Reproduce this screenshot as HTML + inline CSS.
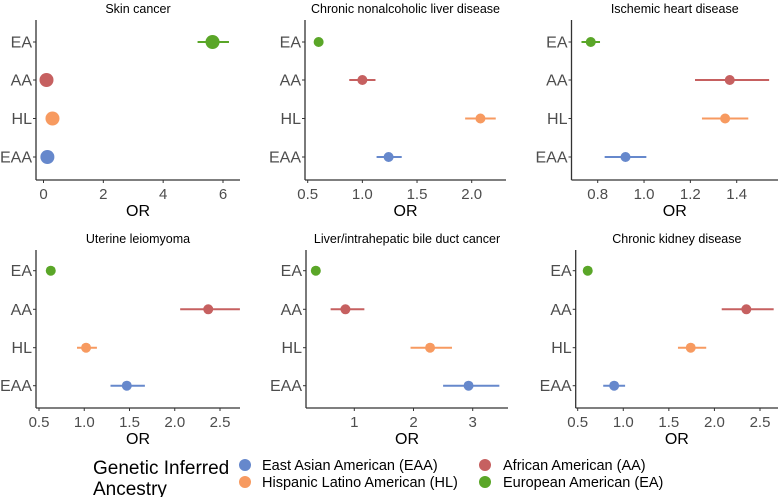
<!DOCTYPE html>
<html><head><meta charset="utf-8">
<style>
body{margin:0;background:#fff;}
svg text{font-family:"Liberation Sans",Arial,sans-serif;}
</style></head>
<body>
<svg id="chart" width="778" height="497" viewBox="0 0 778 497" xmlns="http://www.w3.org/2000/svg">
<g>
<text x="93" y="474" font-size="19" fill="#000">Genetic Inferred</text>
<text x="93" y="495" font-size="19" fill="#000">Ancestry</text>
<circle cx="245" cy="465" r="6" fill="#6688cc"/>
<text x="262" y="470" font-size="14.5" fill="#000">East Asian American (EAA)</text>
<circle cx="245" cy="482" r="6" fill="#f79a60"/>
<text x="262" y="487" font-size="14.5" fill="#000">Hispanic Latino American (HL)</text>
<circle cx="485" cy="465" r="6" fill="#c66060"/>
<text x="503" y="470" font-size="14.5" fill="#000">African American (AA)</text>
<circle cx="485" cy="482" r="6" fill="#5aa628"/>
<text x="503" y="487" font-size="14.5" fill="#000">European American (EA)</text>
</g>
</svg>
<script>
const groups = ["EA","AA","HL","EAA"];
const colors = ["#5aa628","#c66060","#f79a60","#6688cc"];
const titles = ["Skin cancer","Chronic nonalcoholic liver disease","Ischemic heart disease","Uterine leiomyoma","Liver/intrahepatic bile duct cancer","Chronic kidney disease"];
// OR, lower, upper for EA, AA, HL, EAA
const orSkin = [5.65,0.10,0.30,0.13];
const loSkin = [5.15,0.10,0.30,0.13];
const hiSkin = [6.20,0.10,0.30,0.13];
const orLiver = [0.60,1.00,2.08,1.24];
const loLiver = [0.60,0.88,1.94,1.13];
const hiLiver = [0.60,1.12,2.22,1.36];
const orHeart = [0.77,1.37,1.35,0.92];
const loHeart = [0.73,1.22,1.25,0.83];
const hiHeart = [0.81,1.54,1.45,1.01];
const orUterine = [0.63,2.37,1.02,1.47];
const loUterine = [0.63,2.06,0.92,1.29];
const hiUterine = [0.63,2.72,1.14,1.67];
const orBile = [0.35,0.85,2.28,2.93];
const loBile = [0.35,0.60,1.95,2.50];
const hiBile = [0.35,1.17,2.65,3.45];
const orKidney = [0.61,2.35,1.74,0.90];
const loKidney = [0.61,2.08,1.60,0.78];
const hiKidney = [0.61,2.65,1.91,1.02];
const ticksSkin = [0,2,4,6];
const ticksLiver = [0.5,1.0,1.5,2.0];
const ticksHeart = [0.8,1.0,1.2,1.4];
const ticksUterine = [0.5,1.0,1.5,2.0,2.5];
const ticksBile = [1,2,3];
const ticksKidney = [0.5,1.0,1.5,2.0,2.5];
const tickLabelsSkin = ["0","2","4","6"];
const tickLabelsLiver = ["0.5","1.0","1.5","2.0"];
const tickLabelsHeart = ["0.8","1.0","1.2","1.4"];
const tickLabelsUterine = ["0.5","1.0","1.5","2.0","2.5"];
const tickLabelsBile = ["1","2","3"];
const tickLabelsKidney = ["0.5","1.0","1.5","2.0","2.5"];

const NS="http://www.w3.org/2000/svg";
const svg=document.getElementById('chart');
function mk(tag,attrs,parent){const e=document.createElementNS(NS,tag);for(const k in attrs)e.setAttribute(k,attrs[k]);parent.appendChild(e);return e;}

const panels=[
 {t:0,or:orSkin,lo:loSkin,hi:hiSkin,ticks:ticksSkin,tl:tickLabelsSkin,ax:36,right:240,top:20,bottom:180,d0:0,p0:43.5,d1:6,p1:223,r:7,rows:[42,80,118.5,157]},
 {t:1,or:orLiver,lo:loLiver,hi:hiLiver,ticks:ticksLiver,tl:tickLabelsLiver,ax:305,right:506,top:20,bottom:180,d0:0.5,p0:307.7,d1:2.0,p1:471.7,r:5,rows:[42,80,118.5,157]},
 {t:2,or:orHeart,lo:loHeart,hi:hiHeart,ticks:ticksHeart,tl:tickLabelsHeart,ax:571.5,right:778,top:20,bottom:180,d0:0.8,p0:597.7,d1:1.4,p1:736.7,r:5,rows:[42,80,118.5,157]},
 {t:3,or:orUterine,lo:loUterine,hi:hiUterine,ticks:ticksUterine,tl:tickLabelsUterine,ax:36,right:240,top:250,bottom:408,d0:0.5,p0:39,d1:2.5,p1:220,r:5,rows:[270.7,309.3,347.7,385.7]},
 {t:4,or:orBile,lo:loBile,hi:hiBile,ticks:ticksBile,tl:tickLabelsBile,ax:306,right:508,top:250,bottom:408,d0:1,p0:354.3,d1:3,p1:472.7,r:5,rows:[270.7,309.3,347.7,385.7]},
 {t:5,or:orKidney,lo:loKidney,hi:hiKidney,ticks:ticksKidney,tl:tickLabelsKidney,ax:575.7,right:778,top:250,bottom:408,d0:0.5,p0:577.7,d1:2.5,p1:760,r:5,rows:[270.7,309.3,347.7,385.7]}
];
panels.forEach((p,pi)=>{
 const g=mk('g',{},svg);
 
 
 const xs=v=>p.p0+(v-p.d0)*(p.p1-p.p0)/(p.d1-p.d0);
 const cx=(p.ax+p.right)/2;
 const tt=mk('text',{x:cx,y:p.top-7,'font-size':12.5,'text-anchor':'middle',fill:'#000'},g);
 tt.textContent=titles[p.t];
 
 
 const ya=mk('line',{x1:p.ax,y1:p.top,x2:p.ax,y2:p.bottom,stroke:'#333','stroke-width':1.3},g);
 
 
 const xa=mk('line',{x1:p.ax,y1:p.bottom,x2:p.right,y2:p.bottom,stroke:'#333','stroke-width':1.3},g);
 
 
 p.ticks.forEach((v,i)=>{
  const x=xs(v);
  mk('line',{x1:x,y1:p.bottom,x2:x,y2:p.bottom+3,stroke:'#333','stroke-width':1},g);
  const t=mk('text',{x:x,y:p.bottom+19,'font-size':15,'text-anchor':'middle',fill:'#4d4d4d'},g);
  t.textContent=p.tl[i];
  
  
 });
 const ot=mk('text',{x:cx,y:p.bottom+36,'font-size':16,'text-anchor':'middle',fill:'#000'},g);
 ot.textContent='OR';
 
 
 groups.forEach((gr,i)=>{
  const y=p.rows[i];
  mk('line',{x1:p.ax-3,y1:y,x2:p.ax,y2:y,stroke:'#333','stroke-width':1},g);
  const yl=mk('text',{x:p.ax-4,y:y+5.5,'font-size':16,'text-anchor':'end',fill:'#4d4d4d'},g);
  yl.textContent=gr;
  
  
  const ci=mk('line',{x1:xs(p.lo[i]),y1:y,x2:xs(p.hi[i]),y2:y,stroke:colors[i],'stroke-width':2},g);
  
  
  const pt=mk('circle',{cx:xs(p.or[i]),cy:y,r:p.r,fill:colors[i]},g);
  
  
 });
});
</script>
</body></html>
